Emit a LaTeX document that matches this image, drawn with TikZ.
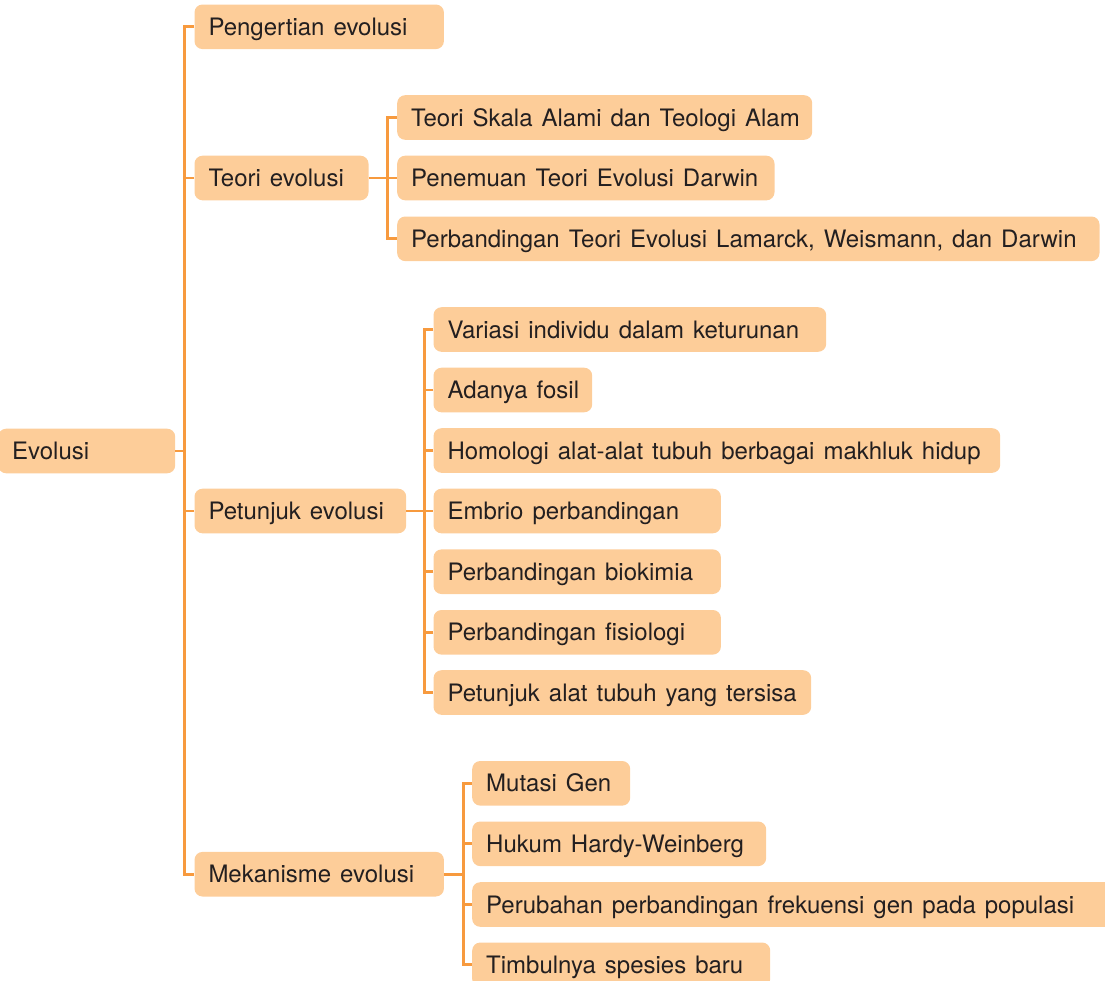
\documentclass[tikz,border=0pt]{standalone}
\usepackage{fontspec}
\setmainfont{TeX Gyre Heros}[WordSpace=1.35]
\definecolor{boxfill}{HTML}{FDCD99}
\definecolor{linec}{HTML}{F79A3E}
\definecolor{textc}{HTML}{231F20}
\newcommand{\mybox}[5]{\pgfmathsetmacro\tw{#4-28}\node[box] (#1) at (#2,#3) {\makebox[\tw pt][l]{#5}};}
\begin{document}
\begin{tikzpicture}[x=1pt,y=-1pt,
  box/.style={fill=boxfill, rounded corners=8pt, anchor=west, inner xsep=14pt, inner ysep=0pt,
    minimum height=44.6pt, text height=17.2pt, text depth=0pt, text=textc,
    font=\fontsize{24}{28}\selectfont},
  conn/.style={draw=linec, line width=2.7pt}]
\useasboundingbox (0,0) rectangle (1105,980);
\clip (0,0) rectangle (1105,980);
% level 0
\mybox{evo}{-2}{451}{177}{Evolusi}
% level 1
\mybox{pen}{194.3}{26.8}{249.4}{Pengertian evolusi}
\mybox{teo}{194.3}{178}{174}{Teori evolusi}
\mybox{pet}{194.3}{511}{211.7}{Petunjuk evolusi}
\mybox{mek}{194.3}{874.2}{249.4}{Mekanisme evolusi}
% teori
\mybox{tsk}{397}{117.5}{415}{Teori Skala Alami dan Teologi Alam}
\mybox{tpd}{397}{178}{377.3}{Penemuan Teori Evolusi Darwin}
\mybox{tpb}{397}{238.8}{702.3}{Perbandingan Teori Evolusi Lamarck, Weismann, dan Darwin}
% petunjuk
\mybox{pv}{433.3}{329.5}{392.7}{Variasi individu dalam keturunan}
\mybox{pa}{433.3}{390}{158.7}{Adanya fosil}
\mybox{ph}{433.3}{450.5}{566.7}{Homologi alat-alat tubuh berbagai makhluk hidup}
\mybox{pe}{433.3}{511}{287.4}{Embrio perbandingan}
\mybox{pb}{433.3}{571.7}{287.4}{Perbandingan biokimia}
\mybox{pf}{433.3}{632.3}{287.4}{Perbandingan fisiologi}
\mybox{pt}{433.3}{692.5}{377.7}{Petunjuk alat tubuh yang tersisa}
% mekanisme
\mybox{mg}{472}{783.3}{158}{Mutasi Gen}
\mybox{mh}{472}{843.8}{294}{Hukum Hardy-Weinberg}
\mybox{mp}{472}{904.5}{660}{Perubahan perbandingan frekuensi gen pada populasi}
\mybox{mt}{472}{964.8}{298}{Timbulnya spesies baru}
% connectors
\draw[conn] (evo.east) -- ++(10,0);
\draw[conn] (pen.west) -- ++(-9.5,0) |- (mek.west);
\draw[conn] (teo.west) -- ++(-9.5,0);
\draw[conn] (pet.west) -- ++(-9.5,0);
\draw[conn] (tsk.west) -- ++(-9.5,0) |- (tpb.west);
\draw[conn] (teo.east) -- (tpd.west);
\draw[conn] (pv.west) -- ++(-9,0) |- (pt.west);
\foreach \n in {pa,ph,pb,pf} \draw[conn] (\n.west) -- ++(-9,0);
\draw[conn] (pet.east) -- (pe.west);
\draw[conn] (mg.west) -- ++(-8.5,0) |- (mt.west);
\foreach \n in {mh,mp} \draw[conn] (\n.west) -- ++(-8.5,0);
\draw[conn] (mek.east) -- ++(20,0);
\end{tikzpicture}
\end{document}
